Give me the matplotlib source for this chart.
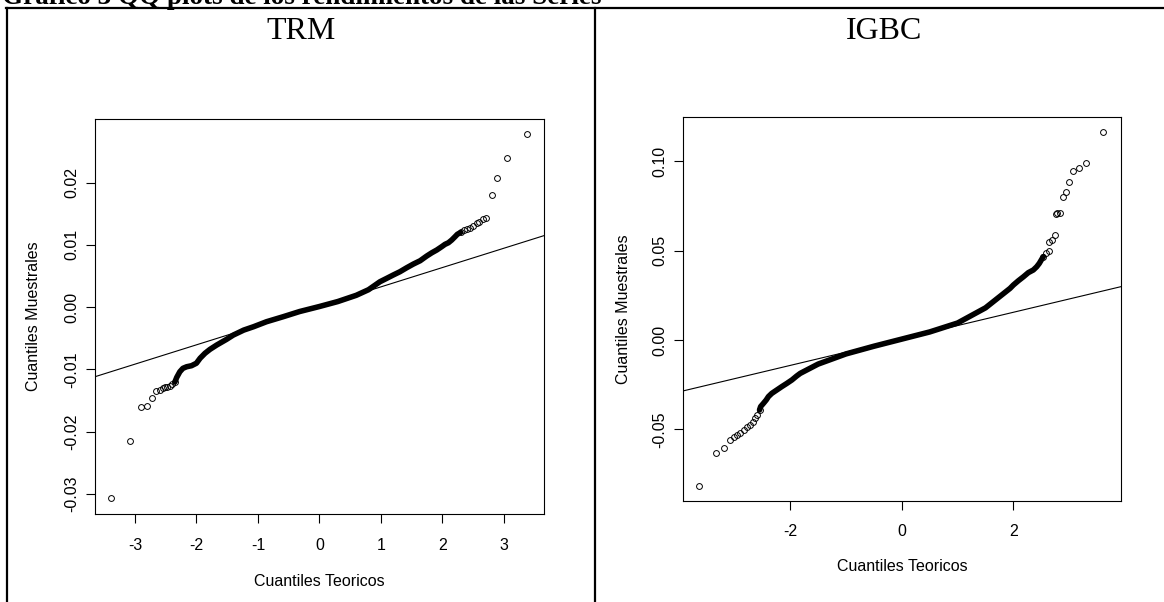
import matplotlib
matplotlib.use("Agg")
import matplotlib.pyplot as plt
from matplotlib.lines import Line2D

plt.rcParams['axes.unicode_minus'] = False
plt.rcParams['font.family'] = ['Liberation Sans', 'DejaVu Sans']

# ---------------- data ----------------
HEADING = "Gráfico 3 QQ plots de los rendimientos de las Series"
TITLES = ["TRM", "IGBC"]
XLABEL = "Cuantiles Teoricos"
YLABEL = "Cuantiles Muestrales"

# TRM: individually visible points (theoretical quantile, sample quantile)
trm_pts_x = [-3.387, -3.077, -2.90, -2.81, -2.72, -2.66, -2.594, -2.55, -2.51, -2.475,
             -2.43, -2.39, -2.35,
             2.30, 2.355, 2.41, 2.45, 2.505, 2.56, 2.60, 2.657, 2.711, 2.804, 2.895, 3.058, 3.373]
trm_pts_y = [-0.0307, -0.0215, -0.0160, -0.0158, -0.01454, -0.01342, -0.01330, -0.01299, -0.01283, -0.01277,
             -0.01260, -0.01234, -0.01200,
             0.01200, 0.01238, 0.01254, 0.01275, 0.01307, 0.01345, 0.01371, 0.01414, 0.01435, 0.01804, 0.02067, 0.02388, 0.02774]
# TRM: dense body of the point cloud
trm_band_x = [-2.35, -2.32, -2.27, -2.22, -2.16, -2.08, -2.00, -1.94, -1.86, -1.78, -1.67, -1.51,
              -1.40, -1.23, -1.07, -0.86, -0.59, -0.32, 0.0, 0.30, 0.60, 0.80, 0.986, 1.095, 1.20,
              1.31, 1.42, 1.53, 1.64, 1.746, 1.83, 1.91, 1.99, 2.044, 2.10, 2.153, 2.207, 2.245, 2.30]
trm_band_y = [-0.0120, -0.01127, -0.01037, -0.00982, -0.00957, -0.0094, -0.0090, -0.0082, -0.0074, -0.00678,
              -0.00608, -0.00517, -0.00448, -0.00368, -0.00314, -0.00234, -0.00154, -0.00070, 0.0001, 0.0009,
              0.0019, 0.0028, 0.00408, 0.00462, 0.00515, 0.00568, 0.00632, 0.00692, 0.00745, 0.0082, 0.00873,
              0.00917, 0.0097, 0.01008, 0.01034, 0.01077, 0.0113, 0.01169, 0.0120]
trm_line = (0.00015, 0.0031)      # intercept, slope of reference line
trm_xlim = (-3.65, 3.655)
trm_ylim = (-0.0332, 0.0302)
trm_xticks = [-3, -2, -1, 0, 1, 2, 3]
trm_yticks = [-0.03, -0.02, -0.01, 0.00, 0.01, 0.02]

# IGBC
igbc_pts_x = [-3.63, -3.324, -3.18, -3.08, -3.01, -2.96, -2.90, -2.83, -2.78, -2.72, -2.675, -2.625,
              -2.59, -2.55,
              2.536, 2.584, 2.63, 2.64, 2.69, 2.74, 2.763, 2.787, 2.835, 2.895, 2.94, 2.997, 3.075,
              3.175, 3.31, 3.612]
igbc_pts_y = [-0.0817, -0.0631, -0.0603, -0.0560, -0.0541, -0.0532, -0.0523, -0.0504, -0.0485, -0.0476,
              -0.0457, -0.0438, -0.0420, -0.0392,
              0.0467, 0.0485, 0.0500, 0.0550, 0.0560, 0.0586, 0.0705, 0.0709, 0.0713, 0.0799, 0.0829,
              0.0886, 0.0948, 0.0965, 0.0989, 0.1166]
igbc_band_x = [-2.55, -2.53, -2.48, -2.43, -2.39, -2.33, -2.24, -2.15, -2.06, -1.97, -1.885, -1.82,
               -1.5, -1.0, -0.5, 0.0, 0.5, 1.0, 1.5, 1.94, 2.0, 2.09, 2.18, 2.267, 2.357, 2.417,
               2.464, 2.50, 2.536]
igbc_band_y = [-0.0392, -0.0373, -0.0355, -0.0336, -0.0317, -0.0299, -0.0280, -0.0261, -0.0243, -0.0224,
               -0.0202, -0.0187, -0.0135, -0.0078, -0.0035, 0.0005, 0.0045, 0.0095, 0.0180, 0.0289,
               0.0308, 0.0332, 0.0354, 0.0377, 0.0392, 0.0410, 0.0429, 0.0448, 0.0467]
igbc_line = (0.00064, 0.00744)
igbc_xlim = (-3.916, 3.923)
igbc_ylim = (-0.0900, 0.1247)
igbc_xticks = [-2, 0, 2]
igbc_yticks = [-0.05, 0.00, 0.05, 0.10]

# ---------------- figure ----------------
W, H = 1164, 602
fig = plt.figure(figsize=(W / 100, H / 100), dpi=100)

def fx(px):
    return px / W

def fy(py):
    return 1 - py / H

# table borders
for (x0, y0, x1, y1) in [(6, 8, W, 8), (7, 8, 7, H), (595, 8, 595, H)]:
    fig.add_artist(Line2D([fx(x0), fx(x1)], [fy(y0), fy(y1)], color='black', lw=1.6))

fig.text(fx(2), fy(4), HEADING, fontfamily='Liberation Serif', fontweight='bold',
         fontsize=19.5, ha='left', va='baseline')

panels = [
    dict(box=(95, 119, 544, 514), title_x=301, ylab_x=35, xlab_y=580,
         pts=(trm_pts_x, trm_pts_y), band=(trm_band_x, trm_band_y),
         line=trm_line, xlim=trm_xlim, ylim=trm_ylim, xticks=trm_xticks, yticks=trm_yticks),
    dict(box=(683.3, 117.3, 1120.7, 500.7), title_x=884, ylab_x=625, xlab_y=565,
         pts=(igbc_pts_x, igbc_pts_y),
         band=(igbc_band_x, igbc_band_y), line=igbc_line, xlim=igbc_xlim, ylim=igbc_ylim,
         xticks=igbc_xticks, yticks=igbc_yticks),
]

for p, title in zip(panels, TITLES):
    l, t, r, b = p['box']
    ax = fig.add_axes([fx(l), fy(b), (r - l) / W, (b - t) / H])
    ax.plot(p['band'][0], p['band'][1], color='black', lw=4.0, solid_capstyle='round',
            solid_joinstyle='round')
    ax.plot(p['pts'][0], p['pts'][1], linestyle='none', marker='o', ms=4.2, mew=0.7,
            mfc='none', mec='black')
    ax.axline((0, p['line'][0]), slope=p['line'][1], color='black', lw=0.8)
    ax.set_xlim(*p['xlim'])
    ax.set_ylim(*p['ylim'])
    ax.set_xticks(p['xticks'])
    ax.set_xticklabels([str(v) for v in p['xticks']])
    ax.set_yticks(p['yticks'])
    ax.set_yticklabels(["%.2f" % v for v in p['yticks']], rotation=90, va='center')
    for s in ax.spines.values():
        s.set_linewidth(0.8)
    ax.tick_params(direction='out', length=6.5, width=0.8, labelsize=11.5)
    ax.tick_params(axis='x', pad=10.5)
    ax.tick_params(axis='y', pad=4.8)
    ax.set_xlabel(XLABEL, fontsize=11.5)
    ax.set_ylabel(YLABEL, fontsize=11.5)
    ax.xaxis.set_label_coords(0.5, (b - (p['xlab_y'] - 6)) / (b - t))
    ax.yaxis.set_label_coords(-(l - (p['ylab_x'] + 6)) / (r - l), 0.5)
    fig.text(fx(p['title_x']), fy(39), title, fontfamily='Liberation Serif', fontsize=23,
             ha='center', va='baseline')

fig.savefig("out.png", dpi=100)
